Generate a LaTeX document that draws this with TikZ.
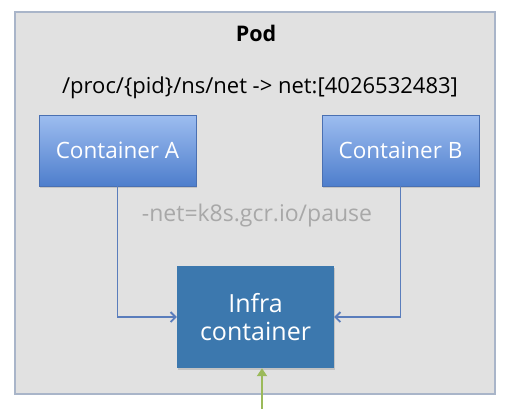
\documentclass[tikz,border=0pt]{standalone}
\usepackage{fontspec}
\setmainfont{Open Sans}
\usepackage{tikz}
\usetikzlibrary{arrows.meta,shadows}

\definecolor{podfill}{HTML}{E1E1E1}
\definecolor{podedge}{HTML}{A9B5C9}
\definecolor{boxtop}{HTML}{9DBDF0}
\definecolor{boxbottom}{HTML}{4E7ECC}
\definecolor{boxedge}{HTML}{4A70B2}
\definecolor{infrafill}{HTML}{3C78AE}
\definecolor{linkblue}{HTML}{5A7DBC}
\definecolor{feedgreen}{HTML}{9BBA5A}
\definecolor{notegray}{HTML}{A8A8A8}

\tikzset{
  container/.style={draw=boxedge, line width=0.6pt, top color=boxtop, bottom color=boxbottom,
    minimum width=157pt, minimum height=71pt, text=white, font=\fontsize{22.5}{26}\selectfont,
    drop shadow={shadow xshift=1pt, shadow yshift=-1.5pt, opacity=0.3}},
  infrabox/.style={fill=infrafill, minimum width=157pt, minimum height=102pt, text=white,
    align=center, font=\fontsize{25}{28}\selectfont,
    drop shadow={shadow xshift=1pt, shadow yshift=-1.5pt, opacity=0.3}},
  link/.style={draw=linkblue, line width=1.8pt, -{Straight Barb[length=5pt,width=10pt]}},
  feedlink/.style={draw=feedgreen, line width=2pt, -{Triangle[length=8pt,width=10pt]}}
}

\begin{document}
\begin{tikzpicture}[x=1pt,y=-1pt]
  \useasboundingbox[fill=white] (0,0) rectangle (514,408);
  % pod frame
  \node[draw=podedge, fill=podfill, line width=1.2pt, minimum width=480pt, minimum height=382pt] (pod) at (255,203) {};
  \node[font=\bfseries\fontsize{21.5}{25}\selectfont] (podname) at (256,33) {Pod};
  \node[font=\fontsize{22}{26}\selectfont] (nspath) at (260,88) {/proc/\{pid\}/ns/net -> net:[4026532483]};
  % containers
  \node[container] (conta) at (117.5,150.5) {Container A};
  \node[container] (contb) at (400.5,150.5) {Container B};
  \node[text=notegray, font=\fontsize{23}{26}\selectfont] (netflag) at (257,216) {-net=k8s.gcr.io/pause};
  \node[infrabox] (infra) at (255.5,317) {Infra\\container};
  % links to the infra container
  \draw[link] (conta.south) |- (infra.west);
  \draw[link] (contb.south) |- (infra.east);
  \coordinate (feed) at (262,410);
  \draw[feedlink] (feed) -- (feed |- infra.south);
\end{tikzpicture}
\end{document}
